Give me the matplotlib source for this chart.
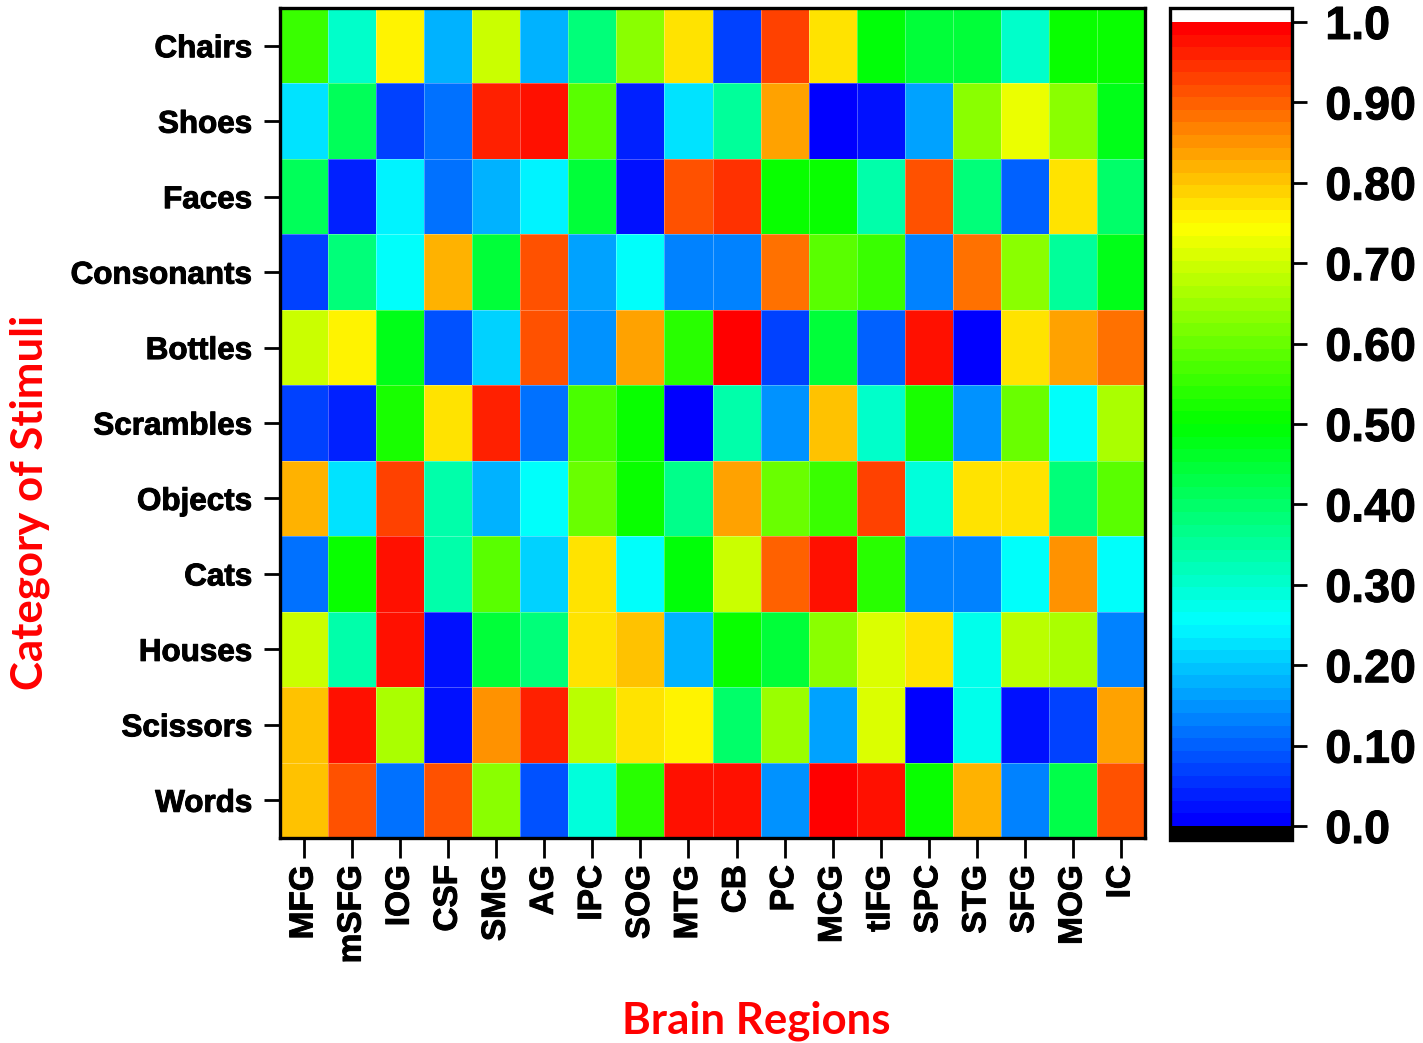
import numpy as np
import matplotlib
matplotlib.use("Agg")
import matplotlib.pyplot as plt
import matplotlib.patheffects as pe
from matplotlib.colors import LinearSegmentedColormap, Normalize
from matplotlib.cm import ScalarMappable

categories = ["Chairs", "Shoes", "Faces", "Consonants", "Bottles", "Scrambles",
              "Objects", "Cats", "Houses", "Scissors", "Words"]
regions = ["MFG", "mSFG", "IOG", "CSF", "SMG", "AG", "IPC", "SOG", "MTG", "CB",
           "PC", "MCG", "tIFG", "SPC", "STG", "SFG", "MOG", "IC"]

chairs     = [0.55, 0.30, 0.75, 0.18, 0.69, 0.18, 0.39, 0.63, 0.78, 0.07, 0.93, 0.78, 0.49, 0.44, 0.44, 0.30, 0.50, 0.50]
shoes      = [0.225, 0.41, 0.07, 0.11, 0.955, 0.97, 0.58, 0.04, 0.225, 0.35, 0.83, 0.00, 0.03, 0.16, 0.64, 0.725, 0.64, 0.47]
faces      = [0.42, 0.04, 0.235, 0.11, 0.18, 0.235, 0.44, 0.025, 0.92, 0.95, 0.50, 0.50, 0.34, 0.92, 0.38, 0.10, 0.78, 0.40]
consonants = [0.07, 0.39, 0.25, 0.82, 0.44, 0.92, 0.16, 0.25, 0.13, 0.13, 0.89, 0.58, 0.55, 0.13, 0.875, 0.63, 0.35, 0.48]
bottles    = [0.70, 0.75, 0.47, 0.08, 0.215, 0.92, 0.15, 0.83, 0.54, 1.00, 0.07, 0.44, 0.10, 0.97, 0.00, 0.78, 0.83, 0.89]
scrambles  = [0.07, 0.04, 0.52, 0.78, 0.955, 0.12, 0.57, 0.51, 0.00, 0.33, 0.15, 0.80, 0.30, 0.52, 0.15, 0.60, 0.25, 0.66]
objects    = [0.82, 0.225, 0.93, 0.34, 0.18, 0.25, 0.60, 0.51, 0.36, 0.83, 0.60, 0.55, 0.93, 0.295, 0.77, 0.77, 0.39, 0.58]
cats       = [0.12, 0.50, 0.97, 0.34, 0.59, 0.215, 0.77, 0.25, 0.49, 0.70, 0.90, 0.97, 0.54, 0.13, 0.13, 0.25, 0.85, 0.25]
houses     = [0.70, 0.33, 0.97, 0.02, 0.44, 0.39, 0.77, 0.80, 0.18, 0.50, 0.44, 0.64, 0.71, 0.77, 0.275, 0.68, 0.66, 0.14]
scissors   = [0.80, 0.97, 0.66, 0.025, 0.85, 0.955, 0.68, 0.77, 0.75, 0.40, 0.65, 0.16, 0.71, 0.00, 0.275, 0.025, 0.07, 0.83]
words      = [0.81, 0.92, 0.12, 0.92, 0.63, 0.08, 0.285, 0.54, 0.97, 0.97, 0.15, 0.985, 0.97, 0.50, 0.82, 0.13, 0.43, 0.92]

cbar_ticks = [0.0, 0.1, 0.2, 0.3, 0.4, 0.5, 0.6, 0.7, 0.8, 0.9, 1.0]
cbar_labels = ["0.0", "0.10", "0.20", "0.30", "0.40", "0.50", "0.60", "0.70", "0.80", "0.90", "1.0"]

data = np.array([chairs, shoes, faces, consonants, bottles, scrambles,
                 objects, cats, houses, scissors, words])

cmap = LinearSegmentedColormap.from_list(
    "bcgyr", ["#0000ff", "#00ffff", "#00ff00", "#ffff00", "#ff0000"], N=64)
cmap.set_under("black")
cmap.set_over("white")
norm = Normalize(vmin=0, vmax=1)

W, H = 1423, 1043
fig = plt.figure(figsize=(W / 100, H / 100), dpi=100)

def px_axes(x0, y0, x1, y1):
    return fig.add_axes([x0 / W, 1 - y1 / H, (x1 - x0) / W, (y1 - y0) / H])

heavy = [pe.withStroke(linewidth=0.7, foreground="black")]

ax = px_axes(280, 8, 1145, 838)
ax.pcolormesh(data, cmap=cmap, norm=norm, edgecolors=(1, 1, 1, 0.3), linewidth=0.6)
ax.set_xlim(0, len(regions))
ax.set_ylim(len(categories), 0)

tickfont = dict(family="Liberation Sans", weight="bold")
ax.set_xticks(np.arange(len(regions)) + 0.5)
ax.set_xticklabels(regions, rotation=90, fontsize=24, **tickfont)
ax.set_yticks(np.arange(len(categories)) + 0.5)
ax.set_yticklabels(categories, fontsize=22.6, **tickfont)
ax.tick_params(axis="y", length=11.5, width=2, pad=8.5)
ax.tick_params(axis="x", length=14.5, width=2, pad=5)
for t in ax.get_xticklabels() + ax.get_yticklabels():
    t.set_path_effects(heavy)
for s in ax.spines.values():
    s.set_linewidth(2.4)

lab = dict(family="Lato", weight="bold", color="#ff0000")
fig.text(756 / W, 1 - 1021 / H, "Brain Regions", ha="center", va="center", fontsize=31.5, **lab)
fig.text(30 / W, 1 - 502 / H, "Category of Stimuli", ha="center", va="center",
         rotation=90, fontsize=31.5, **lab)

cax = px_axes(1170, 8, 1292, 840)
sm = ScalarMappable(norm=norm, cmap=cmap)
cb = fig.colorbar(sm, cax=cax, extend="both", extendrect=True, extendfrac=0.0174)
cb.set_ticks(cbar_ticks)
cb.set_ticklabels(cbar_labels)
cb.ax.tick_params(length=11, width=2, pad=13, labelsize=33.5)
for t in cb.ax.get_yticklabels():
    t.set_fontfamily("Liberation Sans")
    t.set_fontweight("bold")
    t.set_path_effects(heavy)
cb.outline.set_linewidth(2.4)

fig.savefig("out.png", dpi=100)
